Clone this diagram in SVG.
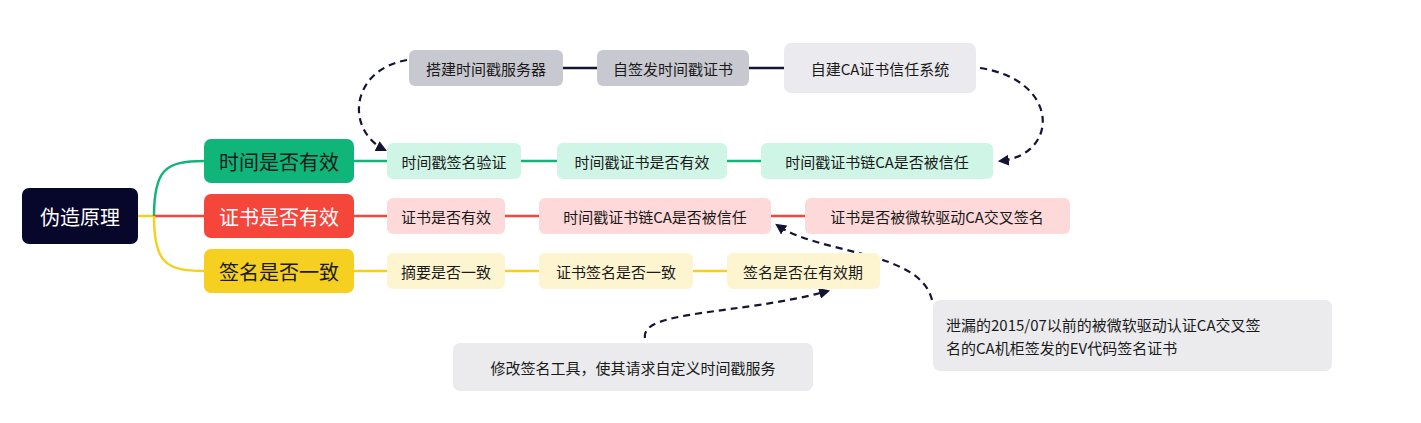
<svg xmlns="http://www.w3.org/2000/svg" width="1421" height="423" viewBox="0 0 1421 423">
<style>
text{font-family:"Noto Sans CJK SC","Liberation Sans",sans-serif;font-size:15px;fill:#1a1a1a;dominant-baseline:central;text-anchor:middle}
.b{font-size:20px}
.w{fill:#fff}
.d{fill:none;stroke:#141434;stroke-width:2.2;stroke-dasharray:7 5;marker-end:url(#a)}
</style>
<defs><marker id="a" viewBox="0 0 10 10" refX="8" refY="5" markerWidth="5" markerHeight="5" orient="auto"><path d="M0,0L10,5L0,10z" fill="#141434"/></marker></defs>
<g id="connectors" fill="none" stroke-width="2.5">
<path d="M138,216H154" stroke="#f5d020"/>
<path d="M154,216C154,170 165,161 204,161" stroke="#10b57a"/>
<path d="M154,216H204" stroke="#f5463c"/>
<path d="M154,216C154,262 165,271 204,271" stroke="#f5d020"/>
<path d="M354,161H387M521,161H557M727,161H761" stroke="#10b57a"/>
<path d="M354,216H387M505,216H539M771,216H805" stroke="#f5463c"/>
<path d="M354,271H387M505,271H539M693,271H727" stroke="#f5d020"/>
<path d="M563,68H597M749,68H784" stroke="#141434"/>
<path class="d" d="M407,60C350,70 345,130 385,150"/>
<path class="d" d="M980,68C1060,80 1060,155 1000,161"/>
<path class="d" d="M932,300C920,250 820,255 777,225"/>
<path class="d" d="M645,338C640,310 740,315 828,291"/>
</g>
<g id="root"><rect x="22" y="188" width="116" height="56" rx="7" fill="#07072b"/><text x="80" y="216" class="b w">伪造原理</text></g>
<g id="b1"><rect x="204" y="139" width="150" height="44" rx="7" fill="#10b57a"/><text x="279" y="161" class="b">时间是否有效</text></g>
<g id="b2"><rect x="204" y="194" width="150" height="44" rx="7" fill="#f5463c"/><text x="279" y="216" class="b w">证书是否有效</text></g>
<g id="b3"><rect x="204" y="249" width="150" height="44" rx="7" fill="#f5d020"/><text x="279" y="271" class="b">签名是否一致</text></g>
<g id="g1"><rect x="387" y="143" width="134" height="36" rx="6" fill="#cff5e6"/><text x="454" y="161">时间戳签名验证</text></g>
<g id="g2"><rect x="557" y="143" width="170" height="36" rx="6" fill="#cff5e6"/><text x="642" y="161">时间戳证书是否有效</text></g>
<g id="g3"><rect x="761" y="143" width="232" height="36" rx="6" fill="#cff5e6"/><text x="877" y="161">时间戳证书链CA是否被信任</text></g>
<g id="r1"><rect x="387" y="198" width="118" height="36" rx="6" fill="#fdd9d9"/><text x="446" y="216">证书是否有效</text></g>
<g id="r2"><rect x="539" y="198" width="232" height="36" rx="6" fill="#fdd9d9"/><text x="655" y="216">时间戳证书链CA是否被信任</text></g>
<g id="r3"><rect x="805" y="198" width="265" height="36" rx="6" fill="#fdd9d9"/><text x="937" y="216">证书是否被微软驱动CA交叉签名</text></g>
<g id="y1"><rect x="387" y="253" width="118" height="36" rx="6" fill="#fdf5d0"/><text x="446" y="271">摘要是否一致</text></g>
<g id="y2"><rect x="539" y="253" width="154" height="36" rx="6" fill="#fdf5d0"/><text x="616" y="271">证书签名是否一致</text></g>
<g id="y3"><rect x="727" y="253" width="153" height="36" rx="6" fill="#fdf5d0"/><text x="803" y="271">签名是否在有效期</text></g>
<g id="t1"><rect x="409" y="50" width="154" height="36" rx="6" fill="#c8c8d0"/><text x="486" y="68">搭建时间戳服务器</text></g>
<g id="t2"><rect x="597" y="50" width="152" height="36" rx="6" fill="#c8c8d0"/><text x="673" y="68">自签发时间戳证书</text></g>
<g id="t3"><rect x="784" y="43" width="192" height="50" rx="7" fill="#ebeaee"/><text x="880" y="68">自建CA证书信任系统</text></g>
<g id="c1"><rect x="933" y="300" width="399" height="71" rx="7" fill="#ebebee"/><text x="946" y="324" style="text-anchor:start">泄漏的2015/07以前的被微软驱动认证CA交叉签</text><text x="946" y="347" style="text-anchor:start">名的CA机柜签发的EV代码签名证书</text></g>
<g id="c2"><rect x="453" y="343" width="360" height="48" rx="7" fill="#ebebee"/><text x="633" y="367">修改签名工具，使其请求自定义时间戳服务</text></g>
</svg>
